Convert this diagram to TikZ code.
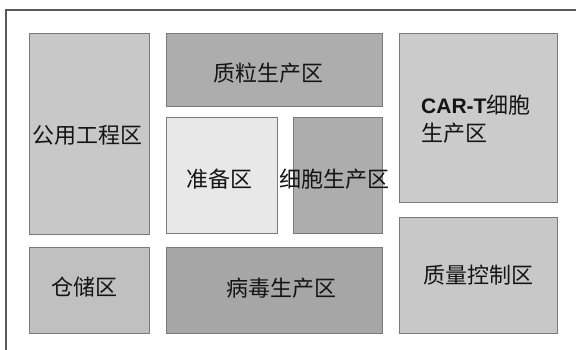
\documentclass[tikz,border=0pt]{standalone}
\usepackage{fontspec}
\newfontfamily\cjk{Noto Sans CJK SC}
\newfontfamily\latinb{Liberation Sans}
\definecolor{txt}{HTML}{141414}
\definecolor{edge}{HTML}{7A7A7A}
\definecolor{cA}{HTML}{C8C8C8}
\definecolor{cB}{HTML}{C0C0C0}
\definecolor{cC}{HTML}{ADADAD}
\definecolor{cD}{HTML}{E8E8E8}
\definecolor{cE}{HTML}{A6A6A6}
\definecolor{cF}{HTML}{CBCBCB}
\begin{document}
\begin{tikzpicture}[x=1pt,y=-1pt,
  zone/.style={draw=edge,line width=0.7pt},
  lbl/.style={text=txt,font=\cjk\fontsize{22}{24}\selectfont,inner sep=0pt},
  frameline/.style={draw=black!65,line width=1.2pt}]
\useasboundingbox (0,0) rectangle (576,350);
\fill[white] (0,0) rectangle (576,350);
% outer frame (only top and left visible)
\coordinate (ftl) at (6,10);
\coordinate (ftr) at (576,10);
\coordinate (fbl) at (6,350);
\draw[frameline] (ftr) -- (ftl) -- (fbl);
% zones
\draw[zone,fill=cA] (29,33) rectangle (149,234);
\draw[zone,fill=cB] (29,247) rectangle (149,333);
\draw[zone,fill=cC] (166,33) rectangle (382,106);
\draw[zone,fill=cD] (166,117) rectangle (277,233);
\draw[zone,fill=cC] (293,117) rectangle (382,233);
\draw[zone,fill=cE] (166,247) rectangle (382,333);
\draw[zone,fill=cF] (399,33) rectangle (557,202);
\draw[zone,fill=cA] (399,217) rectangle (557,333);
% labels
\node[lbl] (gy) at (87,135) {公用工程区};
\node[lbl] (cc) at (84,287) {仓储区};
\node[lbl] (zl) at (268,73) {质粒生产区};
\node[lbl] (zb) at (219,179) {准备区};
\node[lbl] (xb) at (334,179) {细胞生产区};
\node[lbl] (bd) at (281,288) {病毒生产区};
\node[lbl,anchor=west] (car1) at (421,105) {{\latinb\bfseries\fontsize{21}{24}\selectfont CAR-T}细胞};
\node[lbl,anchor=west] (car2) at (421,133) {生产区};
\node[lbl] (zk) at (478,275) {质量控制区};
\end{tikzpicture}
\end{document}
